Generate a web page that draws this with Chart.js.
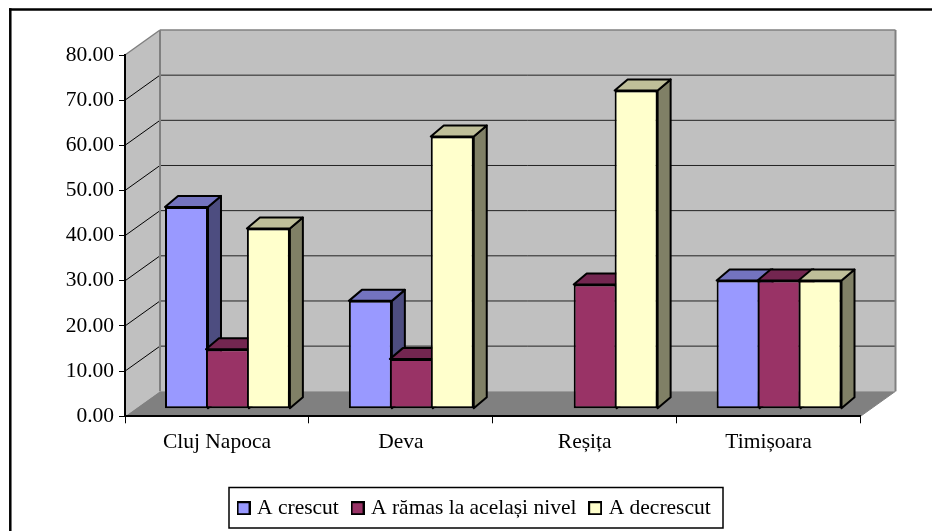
<!DOCTYPE html>
<html lang="ro">
<head>
  <meta charset="UTF-8">
  <title>Evolutie pe centre</title>
  <script src="https://cdn.jsdelivr.net/npm/chart.js"></script>
  <style>
    body { margin: 0; background: #fff; }
    #wrap { position: relative; width: 932px; height: 531px; }
  </style>
</head>
<body>
  <div id="wrap"><canvas id="chart"></canvas></div>
  <script>
    // Data
    const categories = ['Cluj Napoca', 'Deva', 'Reșița', 'Timișoara'];
    const crescut = [44.7, 23.9, 0, 28.4];
    const ramas = [13.2, 11, 27.5, 28.4];
    const decrescut = [39.9, 60.3, 70.5, 28.4];

    const FONT = '"Liberation Serif", "Times New Roman", serif';
    const FONT_SIZE = 21.5;

    // Depth of the box and of the bars, in pixels
    const wallDx = 35, wallDy = -25;
    const barOffX = 10.5, barOffY = -7.5;
    const barDx = 13, barDy = -11;

    const shades = [
      { top: '#7373BF', side: '#4D4D80' },
      { top: '#732650', side: '#4D1A33' },
      { top: '#BFBF99', side: '#808066' },
    ];

    function face(ctx, pts, fill) {
      ctx.beginPath();
      pts.forEach((p, i) => i ? ctx.lineTo(p[0], p[1]) : ctx.moveTo(p[0], p[1]));
      ctx.closePath();
      ctx.fillStyle = fill;
      ctx.fill();
      ctx.strokeStyle = '#000';
      ctx.lineWidth = 2;
      ctx.lineJoin = 'round';
      ctx.stroke();
    }

    function line(ctx, x1, y1, x2, y2, color, width) {
      ctx.beginPath();
      ctx.moveTo(x1, y1);
      ctx.lineTo(x2, y2);
      ctx.strokeStyle = color;
      ctx.lineWidth = width;
      ctx.stroke();
    }

    // small square for the legend, gives tighter spacing than the default box
    function legendIcon(color) {
      const c = document.createElement('canvas');
      c.width = 14;
      c.height = 14;
      const g = c.getContext('2d');
      g.fillStyle = color;
      g.fillRect(1, 1, 12, 12);
      g.strokeStyle = '#000';
      g.lineWidth = 2;
      g.strokeRect(1, 1, 12, 12);
      return c;
    }

    const boxPlugin = {
      id: 'box3d',
      afterLayout(chart) {
        // legend is centred under the plot area, the original sits further right
        chart.legend.left += 45.5;
        chart.legend.right += 45.5;
        chart.legend.top -= 2;
        chart.legend.bottom -= 2;
      },
      // Frame, walls, floor and gridlines
      beforeDraw(chart) {
        const ctx = chart.ctx;
        const { left, right, top, bottom } = chart.chartArea;
        const y = chart.scales.y;
        ctx.save();
        ctx.fillStyle = '#fff';
        ctx.fillRect(0, 0, chart.width, chart.height);

        ctx.fillStyle = '#C0C0C0';
        ctx.fillRect(left + wallDx, top + wallDy, right - left, bottom - top);
        ctx.beginPath();
        ctx.moveTo(left, top);
        ctx.lineTo(left + wallDx, top + wallDy);
        ctx.lineTo(left + wallDx, bottom + wallDy);
        ctx.lineTo(left, bottom);
        ctx.closePath();
        ctx.fill();

        ctx.fillStyle = '#808080';
        ctx.beginPath();
        ctx.moveTo(left, bottom);
        ctx.lineTo(right, bottom);
        ctx.lineTo(right + wallDx, bottom + wallDy);
        ctx.lineTo(left + wallDx, bottom + wallDy);
        ctx.closePath();
        ctx.fill();

        y.ticks.forEach(t => {
          if (t.value === y.min || t.value === y.max) return;
          const py = y.getPixelForValue(t.value);
          line(ctx, left, py, left + wallDx, py + wallDy, '#000', 1);
          line(ctx, left + wallDx, py + wallDy, right + wallDx, py + wallDy, '#222', 1);
        });

        // wall edges
        line(ctx, left, top, left + wallDx, top + wallDy, '#808080', 1.5);
        line(ctx, left + wallDx, top + wallDy, right + wallDx, top + wallDy, '#808080', 1.5);
        line(ctx, left + wallDx, top + wallDy, left + wallDx, bottom + wallDy, '#808080', 2);
        line(ctx, right + wallDx, top + wallDy, right + wallDx, bottom + wallDy, '#808080', 2);
        line(ctx, right, bottom, right + wallDx, bottom + wallDy, '#808080', 1);

        // outer frame, only top and left are in the picture
        line(ctx, 10.3, chart.height, 10.3, 8.3, '#000', 2.5);
        line(ctx, 9, 9.5, chart.width, 9.5, '#000', 2.5);

        // legend frame
        ctx.strokeStyle = '#000';
        ctx.lineWidth = 1.5;
        ctx.strokeRect(229, 487.5, 494, 40.5);
        ctx.restore();
      },
      beforeDatasetsDraw(chart) {
        const ctx = chart.ctx;
        ctx.save();
        ctx.translate(barOffX, barOffY);
        chart.data.datasets.forEach((ds, d) => {
          chart.getDatasetMeta(d).data.forEach((bar, i) => {
            if (!ds.data[i]) return;
            const l = bar.x - bar.width / 2, r = bar.x + bar.width / 2;
            face(ctx, [[r, bar.y], [r + barDx, bar.y + barDy], [r + barDx, bar.base + barDy], [r, bar.base]], shades[d].side);
            face(ctx, [[l, bar.y], [l + barDx, bar.y + barDy], [r + barDx, bar.y + barDy], [r, bar.y]], shades[d].top);
            bar.draw(ctx);
          });
        });
        ctx.restore();
        return false;
      },
    };

    const barStyle = { borderColor: '#000', borderWidth: 2, borderSkipped: false, barPercentage: 1.05, categoryPercentage: 0.668 };

    new Chart(document.getElementById('chart'), {
      type: 'bar',
      data: {
        labels: categories,
        datasets: [
          { label: 'A crescut', data: crescut, backgroundColor: '#9999FF', ...barStyle },
          { label: 'A rămas la același nivel', data: ramas, backgroundColor: '#993366', ...barStyle },
          { label: 'A decrescut', data: decrescut, backgroundColor: '#FFFFCC', ...barStyle },
        ],
      },
      options: {
        responsive: true,
        maintainAspectRatio: false,
        animation: false,
        layout: { autoPadding: false, padding: { left: 0, top: 55, right: 71.5, bottom: 0 } },
        scales: {
          x: {
            afterFit(scale) { scale.height = 67.2; },
            grid: { drawOnChartArea: false, color: '#000', tickLength: 7, offset: true },
            border: { color: '#000', width: 2 },
            ticks: { color: '#000', font: { family: FONT, size: FONT_SIZE }, padding: 6, maxRotation: 0 },
          },
          y: {
            min: 0,
            max: 80,
            afterFit(scale) { scale.width = 125; },
            grid: { drawOnChartArea: false, color: '#000', tickLength: 6 },
            border: { color: '#000', width: 2 },
            ticks: { stepSize: 10, color: '#000', font: { family: FONT, size: FONT_SIZE }, padding: 5, callback: v => v.toFixed(2) },
          },
        },
        plugins: {
          tooltip: { enabled: false },
          legend: {
            position: 'bottom',
            labels: {
              color: '#000',
              font: { family: FONT, size: FONT_SIZE },
              usePointStyle: true,
              boxWidth: 5.5,
              padding: 16,
              generateLabels(chart) {
                return Chart.defaults.plugins.legend.labels.generateLabels(chart)
                  .map(item => ({ ...item, pointStyle: legendIcon(item.fillStyle) }));
              },
            },
          },
        },
      },
      plugins: [boxPlugin],
    });
  </script>
</body>
</html>
